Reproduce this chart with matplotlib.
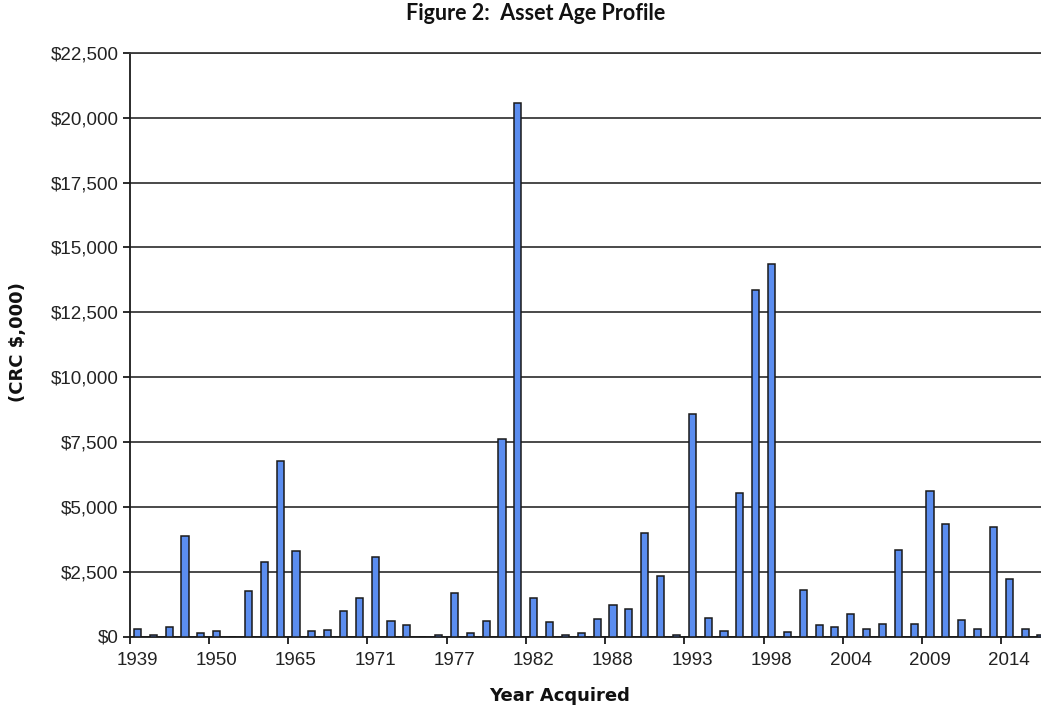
import matplotlib
matplotlib.use('Agg')
import matplotlib.pyplot as plt
from matplotlib.ticker import FuncFormatter, FixedLocator

# categories (years with acquisitions) and CRC values in $,000
years = [1939, 1940, 1945, 1947, 1948, 1950, 1955, 1958, 1960, 1962,
         1965, 1966, 1967, 1968, 1970, 1971, 1972, 1973, 1974, 1976,
         1977, 1978, 1979, 1980, 1981, 1982, 1983, 1984, 1985, 1987,
         1988, 1989, 1990, 1991, 1992, 1993, 1994, 1995, 1996, 1997,
         1998, 1999, 2000, 2001, 2003, 2004, 2005, 2006, 2007, 2008,
         2009, 2010, 2011, 2012, 2013, 2014, 2015, 2016]
crc = [300, 50, 360, 3860, 130, 200, 0, 1740, 2870, 6750,
       3280, 200, 245, 970, 1500, 3050, 600, 425, 0, 50,
       1675, 130, 600, 7600, 20580, 1500, 540, 50, 130, 660,
       1210, 1070, 4000, 2330, 50, 8580, 720, 230, 5530, 13350,
       14370, 180, 1800, 425, 360, 850, 280, 475, 3330, 475,
       5600, 4350, 645, 280, 4220, 2210, 280, 60]
y_ticks = [0, 2500, 5000, 7500, 10000, 12500, 15000, 17500, 20000, 22500]

txt = '#222222'
grid_col = '#3a3a3a'

fig = plt.figure(figsize=(10.41, 7.10), dpi=100)
ax = fig.add_axes([129.5 / 1041, 1 - 636.5 / 710, 1 - 129.5 / 1041, (636.5 - 53) / 710])

pos = list(range(1, len(years) + 1))
ax.bar(pos, crc, width=0.45, color='#5b8def', edgecolor='#1a1a1a', linewidth=1.1, zorder=3)

ax.set_ylim(0, 22500)
ax.set_xlim(0.5, 58.0)
ax.yaxis.set_major_locator(FixedLocator(y_ticks))
ax.yaxis.set_major_formatter(FuncFormatter(lambda v, p: '${:,.0f}'.format(v)))
ax.yaxis.grid(True, color=grid_col, linewidth=1.3, zorder=0)
ax.set_axisbelow(True)

# labels on every 5th category, tick marks between categories
lab_pos = pos[::5]
ax.set_xticks(lab_pos)
ax.set_xticklabels([str(years[i - 1]) for i in lab_pos])
ax.set_xticks([p - 0.5 for p in lab_pos], minor=True)
ax.tick_params(axis='x', which='major', length=0, pad=11, labelsize=13.5, labelcolor=txt)
ax.tick_params(axis='x', which='minor', length=5, width=1.3, color='#1a1a1a')
ax.tick_params(axis='y', length=5, width=1.3, color='#1a1a1a', pad=3, labelsize=13.5, labelcolor=txt)
for lab in ax.get_xticklabels() + ax.get_yticklabels():
    lab.set_fontfamily('Liberation Sans')

for s in ['right']:
    ax.spines[s].set_visible(False)
ax.spines['top'].set_color(grid_col)
ax.spines['top'].set_linewidth(1.3)
ax.spines['left'].set_color('#1a1a1a')
ax.spines['left'].set_linewidth(1.3)
ax.spines['bottom'].set_color('#1a1a1a')
ax.spines['bottom'].set_linewidth(1.3)

fig.text(536 / 1041, 1 - 13 / 710, 'Figure 2:  Asset Age Profile', ha='center', va='center',
         fontsize=15.5, fontweight='bold', family='Lato', color='#111111')
fig.text(18 / 1041, 1 - 342 / 710, '(CRC $,000)', rotation=90, ha='center', va='center',
         fontsize=13, fontweight='bold', family='DejaVu Sans', color='#111111')
fig.text(560 / 1041, 1 - 696 / 710, 'Year Acquired', ha='center', va='center',
         fontsize=13, fontweight='bold', family='DejaVu Sans', color='#111111')

fig.savefig('out.png', dpi=100)
